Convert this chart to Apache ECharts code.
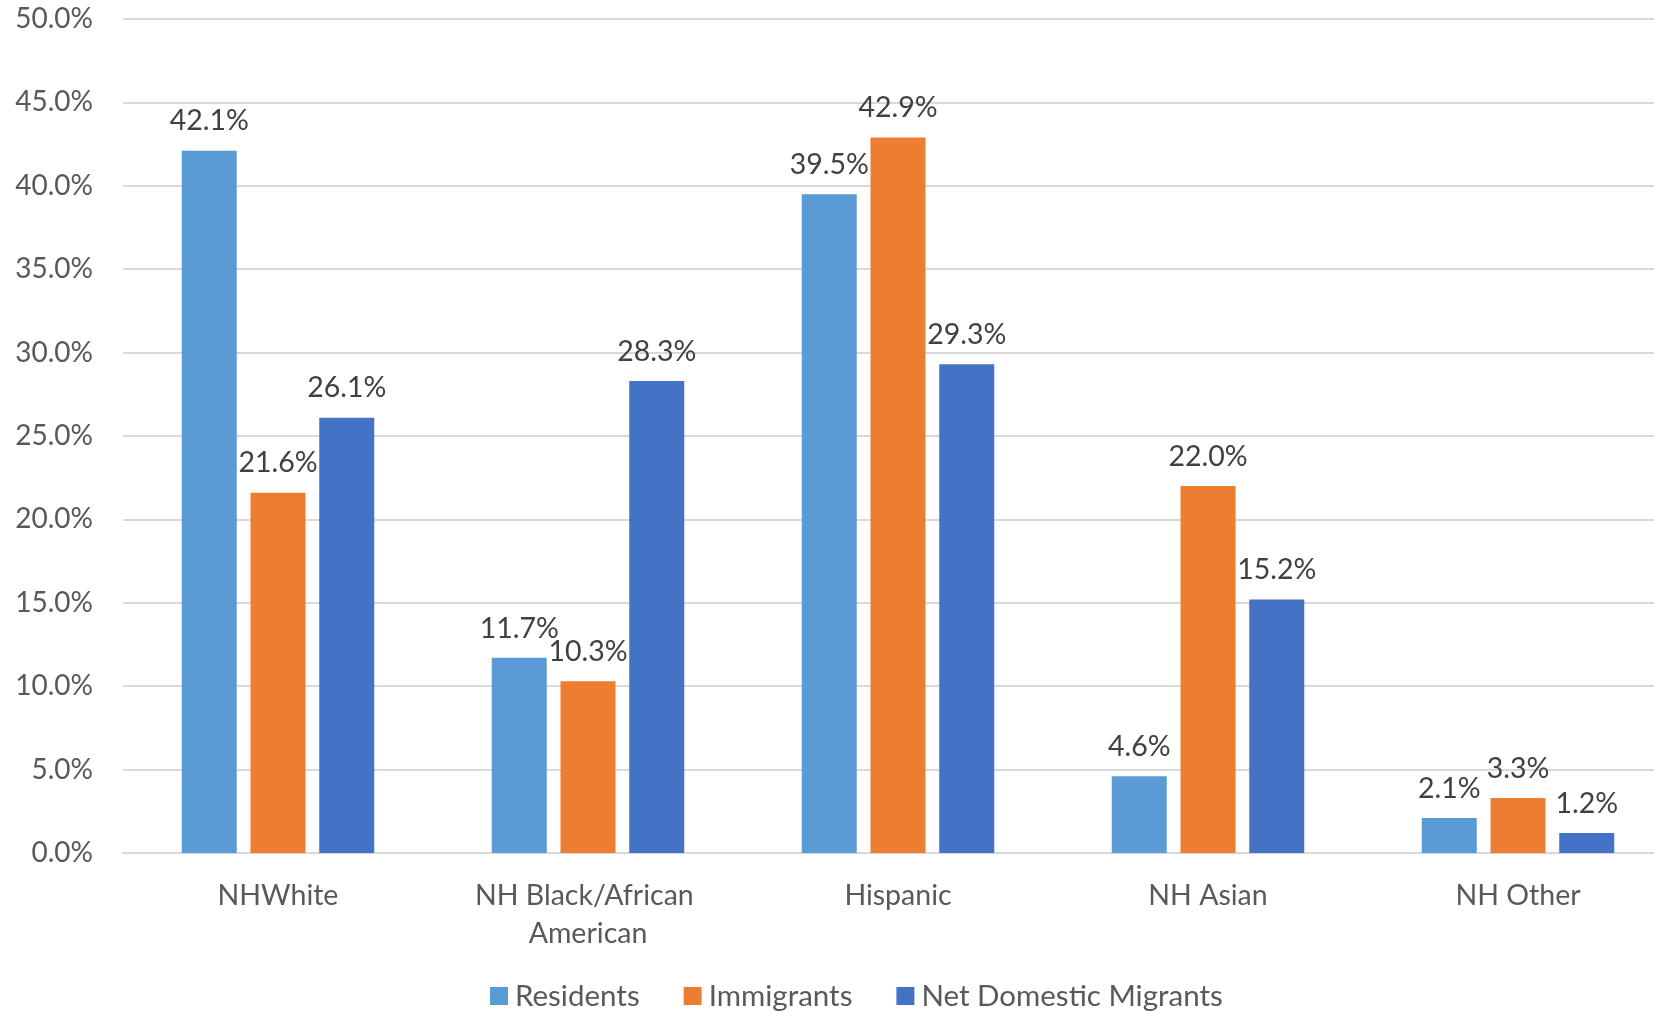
<!DOCTYPE html>
<html>
<head>
<meta charset="utf-8">
<script src="https://cdn.jsdelivr.net/npm/echarts@6/dist/echarts.min.js"></script>
<style>html,body{margin:0;padding:0;background:#fff;overflow:hidden;}#c{width:1674px;height:1012px;}</style>
</head>
<body>
<div id="c"></div>
<script>
const categories = ['NHWhite', 'NH Black/African American', 'Hispanic', 'NH Asian', 'NH Other'];
const residents = [42.1, 11.7, 39.5, 4.6, 2.1];
const immigrants = [21.6, 10.3, 42.9, 22.0, 3.3];
const netDomestic = [26.1, 28.3, 29.3, 15.2, 1.2];
const seriesNames = ['Residents', 'Immigrants', 'Net Domestic Migrants'];
const yTicks = { min: 0, max: 50, interval: 5 };

const FONT = 'Lato';
const chart = echarts.init(document.getElementById('c'));
function bar(name, data, color) {
  return {
    name: name, type: 'bar', data: data, barWidth: 55, barGap: '25%',
    itemStyle: { color: color },
    label: {
      show: true, position: 'top', distance: 15,
      formatter: p => p.value.toFixed(1) + '%',
      fontFamily: FONT, fontSize: 28.5, color: '#404040'
    }
  };
}
chart.setOption({
  animation: false,
  textStyle: { fontFamily: FONT },
  grid: { left: 123, width: 1550, top: 19, bottom: 159, containLabel: false },
  legend: {
    data: seriesNames, top: 976, left: 485, itemWidth: 18, itemHeight: 18, itemGap: 44,
    icon: 'rect',
    textStyle: { fontFamily: FONT, fontSize: 29.5, color: '#595959', padding: [0, 0, 0, 2] }
  },
  xAxis: {
    type: 'category', data: categories,
    axisLine: { show: true, lineStyle: { color: '#D9D9D9', width: 2 } },
    axisTick: { show: false },
    axisLabel: {
      fontFamily: FONT, fontSize: 28.5, color: '#595959', margin: 24, lineHeight: 38,
      width: 280, overflow: 'break', interval: 0
    }
  },
  yAxis: {
    type: 'value', min: yTicks.min, max: yTicks.max, interval: yTicks.interval,
    axisLine: { show: false }, axisTick: { show: false },
    splitLine: { lineStyle: { color: '#D9D9D9', width: 2 } },
    axisLabel: {
      fontFamily: FONT, fontSize: 28, color: '#595959', margin: 30,
      formatter: v => v.toFixed(1) + '%'
    }
  },
  series: [
    bar(seriesNames[0], residents, '#5B9BD5'),
    bar(seriesNames[1], immigrants, '#ED7D31'),
    bar(seriesNames[2], netDomestic, '#4472C4')
  ]
});
</script>
</body>
</html>
